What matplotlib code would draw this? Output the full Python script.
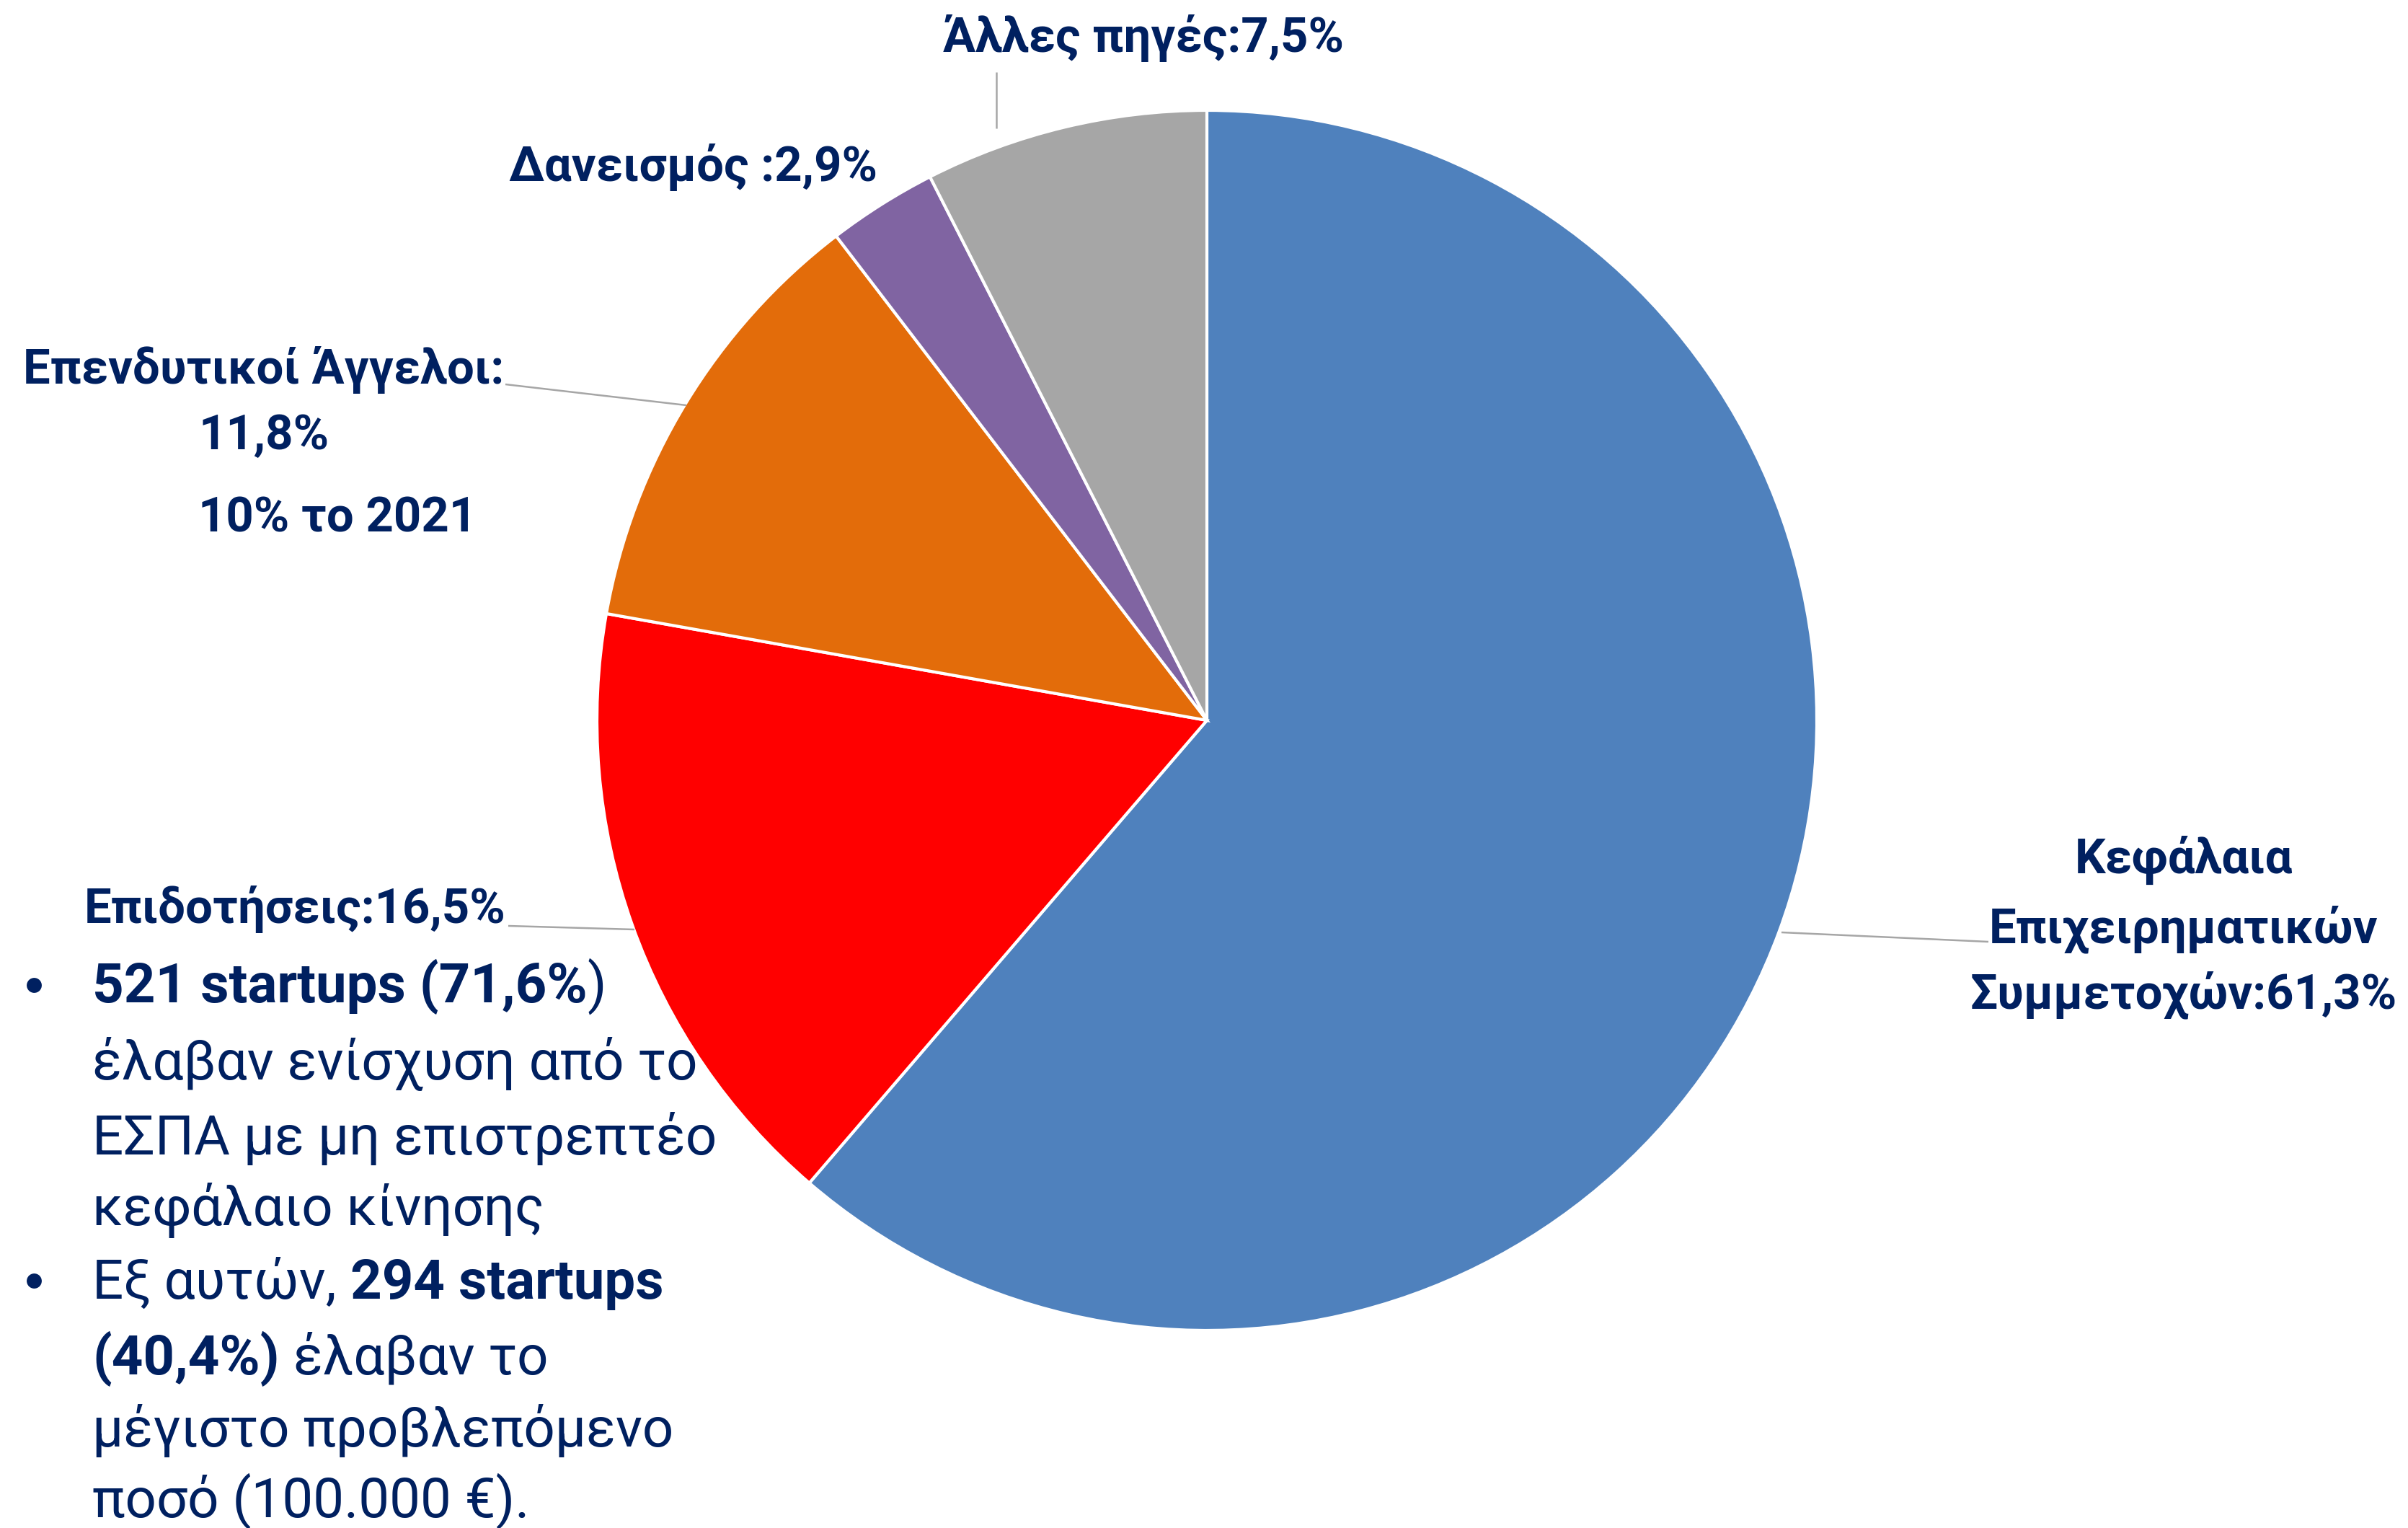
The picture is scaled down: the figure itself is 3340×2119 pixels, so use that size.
import matplotlib
matplotlib.use("Agg")
import matplotlib.pyplot as plt
from matplotlib import font_manager as fm

W, H = 3340, 2119
DPI = 200

# ---- data ----
categories = ["Κεφάλαια Επιχειρηματικών Συμμετοχών", "Επιδοτήσεις",
              "Επενδυτικοί Άγγελοι", "Δανεισμός", "Άλλες πηγές"]
values = [61.3, 16.5, 11.8, 2.9, 7.5]
colors = ["#4F81BD", "#FF0000", "#E36C0A", "#8064A2", "#A6A6A6"]

NAVY = "#002060"

# pick a family that really has a bold face
FAMILY = "DejaVu Sans"
for cand in ["Roboto", "Noto Sans", "Open Sans", "Liberation Sans"]:
    try:
        f = fm.findfont(fm.FontProperties(family=cand, weight="bold"),
                        fallback_to_default=False)
        if "bold" in f.lower():
            FAMILY = cand
            break
    except Exception:
        pass
FAM = [FAMILY, "DejaVu Sans"]
plt.rcParams['font.family'] = FAM

def pct(v):
    return f"{v:.1f}".replace(".", ",") + "%"

fig = plt.figure(figsize=(W / DPI, H / DPI), dpi=DPI)
ax = fig.add_axes([0, 0, 1, 1])
ax.set_xlim(0, W)
ax.set_ylim(0, H)
ax.set_aspect("equal")
ax.axis("off")

def Y(y):
    return H - y

cx, cy, R = 1674, 999, 846
ax.pie(values, colors=colors, startangle=90, counterclock=False,
       center=(cx, Y(cy)), radius=R,
       wedgeprops=dict(edgecolor="white", linewidth=1.5))
ax.set_xlim(0, W)
ax.set_ylim(0, H)

fig.canvas.draw()
renderer = fig.canvas.get_renderer()

def width_of(s, size, bold):
    t = fig.text(0, 0, s, fontsize=size, fontweight="bold" if bold else "normal")
    w = t.get_window_extent(renderer=renderer).width
    t.remove()
    return w

# fit font sizes to the reference text widths (pixels)
LFS = 24 * 584 / width_of(f"{categories[1]}:{pct(values[1])}", 24, True)
BFS = 28 * 839 / width_of("έλαβαν ενίσχυση από το", 28, False)

def lbl(x, y, s, **kw):
    ax.text(x, Y(y), s, ha="center", va="center", fontsize=LFS,
            fontweight="bold", color=NAVY, **kw)

def leader(x0, y0, x1, y1):
    ax.plot([x0, x1], [Y(y0), Y(y1)], color="#A6A6A6", lw=0.9,
            solid_capstyle="butt")

# Άλλες πηγές
lbl(1586, 53, f"{categories[4]}:{pct(values[4])}")
leader(1382, 100, 1382, 178)

# Δανεισμός
lbl(961, 232, f"{categories[3]} :{pct(values[3])}")

# Επενδυτικοί Άγγελοι
lbl(366, 513, f"{categories[2]}:")
lbl(366, 605, pct(values[2]))
ax.text(275, Y(720), "10% το 2021", ha="left", va="center", fontsize=LFS,
        fontweight="bold", color=NAVY)
leader(701, 533, 952, 562)

# Επιδοτήσεις
lbl(409, 1261, f"{categories[1]}:{pct(values[1])}")
leader(705, 1284, 880, 1289)

# Κεφάλαια Επιχειρηματικών Συμμετοχών
lbl(3029, 1193, "Κεφάλαια")
lbl(3029, 1289, "Επιχειρηματικών")
lbl(3029, 1380, f"Συμμετοχών:{pct(values[0])}")
leader(2471, 1293, 2758, 1306)

# ---- bullet text ----
def seg_line(x, y, parts):
    cur = x
    for s, bold in parts:
        t = ax.text(cur, Y(y), s, ha="left", va="baseline", fontsize=BFS,
                    fontweight="bold" if bold else "normal", color=NAVY)
        bb = t.get_window_extent(renderer=renderer)
        cur += bb.width  # 1 data unit == 1 pixel

TX = 128
base = [1390, 1497, 1601, 1699, 1801, 1906, 2006, 2104]
lines = [
    [("521 startups (71,6%", True), (")", False)],
    [("έλαβαν ενίσχυση από το", False)],
    [("ΕΣΠΑ με μη επιστρεπτέο", False)],
    [("κεφάλαιο κίνησης", False)],
    [("Εξ αυτών, ", False), ("294 startups", True)],
    [("(40,4%)", True), (" έλαβαν το", False)],
    [("μέγιστο προβλεπόμενο", False)],
    [("ποσό (100.000 €).", False)],
]
for yb, parts in zip(base, lines):
    seg_line(TX, yb, parts)
for yc in (1366, 1776):
    ax.plot([47], [Y(yc)], marker="o", markersize=7.5, color=NAVY,
            markeredgewidth=0)

fig.savefig("out.png", dpi=DPI)
